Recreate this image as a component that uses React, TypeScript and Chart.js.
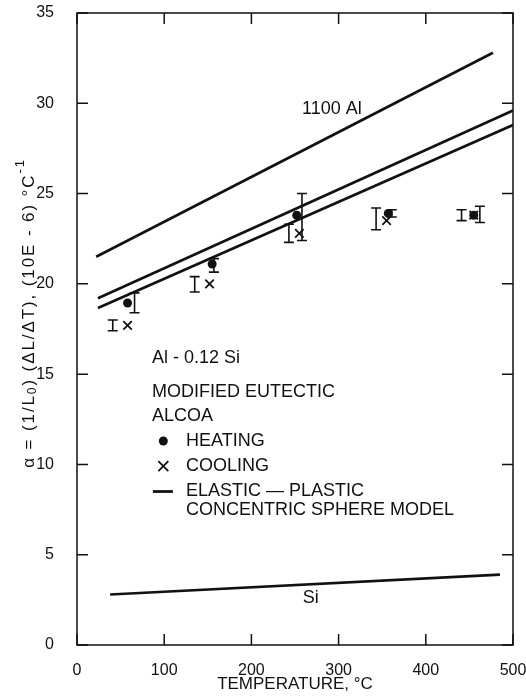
import React, { useEffect, useRef } from "react";
import { Chart, registerables } from "chart.js";

Chart.register(...registerables);

// ---------- data ----------
const xTickValues = [0, 100, 200, 300, 400, 500];
const yTickValues = [0, 5, 10, 15, 20, 25, 30, 35];

const al1100Temp = [22, 477];
const al1100Alpha = [21.5, 32.8];
const modelUpperTemp = [24, 500];
const modelUpperAlpha = [19.2, 29.6];
const modelLowerTemp = [24, 500];
const modelLowerAlpha = [18.66, 28.8];
const siTemp = [38, 485];
const siAlpha = [2.8, 3.9];

const heatingTemp = [58, 155, 252, 357, 455];
const heatingAlpha = [18.94, 21.1, 23.8, 23.9, 23.8];
const heatingErrTemp = [66, 157, 258, 361, 462];
const heatingErrLow = [18.4, 20.65, 22.4, 23.7, 23.4];
const heatingErrHigh = [19.5, 21.4, 25.0, 24.1, 24.3];

const coolingTemp = [58, 152, 255, 355, 455];
const coolingAlpha = [17.7, 20.0, 22.8, 23.5, 23.8];
const coolingErrTemp = [41, 135, 243, 343, 441];
const coolingErrLow = [17.4, 19.55, 22.3, 23.0, 23.5];
const coolingErrHigh = [18.0, 20.4, 23.3, 24.2, 24.1];

// annotation texts (data coordinates)
const noteTexts = [
  { text: "1100 Al", t: 258, a: 29.7 },
  { text: "Si", t: 259, a: 2.6 },
  { text: "Al - 0.12 Si", t: 86, a: 15.9 },
  { text: "MODIFIED EUTECTIC", t: 86, a: 14.0 },
  { text: "ALCOA", t: 86, a: 12.7 },
  { text: "HEATING", t: 125, a: 11.3 },
  { text: "COOLING", t: 125, a: 9.9 },
  { text: "ELASTIC — PLASTIC", t: 125, a: 8.5 },
  { text: "CONCENTRIC SPHERE MODEL", t: 125, a: 7.45 },
];
const legendSymbolTemp = 99;
const legendHeatAlpha = 11.3;
const legendCoolAlpha = 9.9;
const legendLineTemp = [87, 110];
const legendLineAlpha = 8.5;

const xTitle = "TEMPERATURE, °C";

const INK = "#111";
const FONT = '"Liberation Sans", Arial, Helvetica, sans-serif';

const toXY = (xs: number[], ys: number[]) => xs.map((x, i) => ({ x, y: ys[i] }));

const overlayPlugin = {
  id: "overlay",
  afterDatasetsDraw(chart: any) {
    const { ctx, chartArea: ca, scales } = chart;
    const xs = scales.x;
    const ys = scales.y;
    ctx.save();
    ctx.strokeStyle = INK;
    ctx.fillStyle = INK;

    // error bars
    const drawErr = (ts: number[], lo: number[], hi: number[]) => {
      ctx.lineWidth = 1.6;
      ts.forEach((t, i) => {
        const px = xs.getPixelForValue(t);
        const p1 = ys.getPixelForValue(lo[i]);
        const p2 = ys.getPixelForValue(hi[i]);
        ctx.beginPath();
        ctx.moveTo(px, p1);
        ctx.lineTo(px, p2);
        ctx.moveTo(px - 5, p1);
        ctx.lineTo(px + 5, p1);
        ctx.moveTo(px - 5, p2);
        ctx.lineTo(px + 5, p2);
        ctx.stroke();
      });
    };
    drawErr(heatingErrTemp, heatingErrLow, heatingErrHigh);
    drawErr(coolingErrTemp, coolingErrLow, coolingErrHigh);

    // frame
    ctx.lineWidth = 1.5;
    ctx.strokeRect(ca.left, ca.top, ca.right - ca.left, ca.bottom - ca.top);

    // inward ticks
    const TL = 11;
    ctx.beginPath();
    xTickValues.forEach((v) => {
      const px = xs.getPixelForValue(v);
      ctx.moveTo(px, ca.bottom);
      ctx.lineTo(px, ca.bottom - TL);
      ctx.moveTo(px, ca.top);
      ctx.lineTo(px, ca.top + TL);
    });
    yTickValues.forEach((v) => {
      const py = ys.getPixelForValue(v);
      ctx.moveTo(ca.left, py);
      ctx.lineTo(ca.left + TL, py);
      ctx.moveTo(ca.right, py);
      ctx.lineTo(ca.right - TL, py);
    });
    ctx.stroke();

    // annotations
    ctx.font = `18px ${FONT}`;
    ctx.textBaseline = "middle";
    ctx.textAlign = "left";
    noteTexts.forEach((n) => {
      ctx.fillText(n.text, xs.getPixelForValue(n.t), ys.getPixelForValue(n.a));
    });

    // legend symbols
    const sx = xs.getPixelForValue(legendSymbolTemp);
    ctx.beginPath();
    ctx.arc(sx, ys.getPixelForValue(legendHeatAlpha), 4.5, 0, Math.PI * 2);
    ctx.fill();
    const cy = ys.getPixelForValue(legendCoolAlpha);
    ctx.lineWidth = 1.8;
    ctx.beginPath();
    ctx.moveTo(sx - 5, cy - 5);
    ctx.lineTo(sx + 5, cy + 5);
    ctx.moveTo(sx - 5, cy + 5);
    ctx.lineTo(sx + 5, cy - 5);
    ctx.stroke();
    ctx.lineWidth = 2.8;
    ctx.beginPath();
    const ly = ys.getPixelForValue(legendLineAlpha);
    ctx.moveTo(xs.getPixelForValue(legendLineTemp[0]), ly);
    ctx.lineTo(xs.getPixelForValue(legendLineTemp[1]), ly);
    ctx.stroke();

    // x title
    ctx.font = `17px ${FONT}`;
    ctx.textAlign = "center";
    ctx.fillText(xTitle, (ca.left + ca.right) / 2, 684);

    // y title (rotated) with sub/superscripts, slightly letter-spaced
    const SP = 1.9;
    const segs = [
      { t: "α = (1/L", f: 17, dy: 0 },
      { t: "0", f: 12, dy: 4 },
      { t: ") (ΔL/ΔT), (10E - 6) °C", f: 17, dy: 0 },
      { t: "-1", f: 13, dy: -9 },
    ];
    let total = 0;
    segs.forEach((s) => {
      ctx.font = `${s.f}px ${FONT}`;
      for (const ch of s.t) total += ctx.measureText(ch).width + SP;
    });
    ctx.translate(29, (ca.top + ca.bottom) / 2 - 16);
    ctx.rotate(-Math.PI / 2);
    ctx.textAlign = "left";
    ctx.textBaseline = "middle";
    let x0 = -total / 2;
    segs.forEach((s) => {
      ctx.font = `${s.f}px ${FONT}`;
      for (const ch of s.t) {
        ctx.fillText(ch, x0, s.dy);
        x0 += ctx.measureText(ch).width + SP;
      }
    });
    ctx.restore();
  },
};

export default function App() {
  const ref = useRef<HTMLCanvasElement | null>(null);

  useEffect(() => {
    if (!ref.current) return;
    const lineDs = (xs: number[], ys: number[]) => ({
      type: "scatter" as const,
      data: toXY(xs, ys),
      showLine: true,
      borderColor: INK,
      borderWidth: 2.6,
      pointRadius: 0,
      fill: false,
    });
    const chart = new Chart(ref.current, {
      type: "scatter",
      data: {
        datasets: [
          lineDs(al1100Temp, al1100Alpha),
          lineDs(modelUpperTemp, modelUpperAlpha),
          lineDs(modelLowerTemp, modelLowerAlpha),
          lineDs(siTemp, siAlpha),
          {
            data: toXY(heatingTemp, heatingAlpha),
            pointStyle: "circle",
            pointRadius: 4.5,
            backgroundColor: INK,
            borderColor: INK,
            borderWidth: 0,
          },
          {
            data: toXY(coolingTemp, coolingAlpha),
            pointStyle: "crossRot",
            pointRadius: 6,
            backgroundColor: INK,
            borderColor: INK,
            borderWidth: 1.8,
          },
        ],
      },
      options: {
        animation: false,
        responsive: false,
        maintainAspectRatio: false,
        events: [],
        layout: { padding: { top: 13, right: 13, left: 0, bottom: 0 } },
        plugins: { legend: { display: false }, tooltip: { enabled: false } },
        scales: {
          x: {
            type: "linear",
            min: 0,
            max: 500,
            afterBuildTicks: (s: any) => {
              s.ticks = xTickValues.map((v) => ({ value: v }));
            },
            afterFit: (s: any) => {
              s.height = 55;
              s.paddingLeft = 0;
              s.paddingRight = 0;
            },
            grid: { display: false },
            border: { display: false },
            ticks: { color: INK, font: { size: 16, family: FONT }, padding: 8, maxRotation: 0 },
          },
          y: {
            type: "linear",
            min: 0,
            max: 35,
            afterBuildTicks: (s: any) => {
              s.ticks = yTickValues.map((v) => ({ value: v }));
            },
            afterFit: (s: any) => {
              s.width = 77;
              s.paddingTop = 0;
              s.paddingBottom = 0;
            },
            grid: { display: false },
            border: { display: false },
            ticks: { color: INK, font: { size: 16, family: FONT }, padding: 15 },
          },
        },
      },
      plugins: [overlayPlugin],
    } as any);
    return () => chart.destroy();
  }, []);

  return (
    <div style={{ position: "fixed", left: 0, top: 0, width: 526, height: 700, background: "#fff" }}>
      <canvas ref={ref} width={526} height={700} style={{ width: 526, height: 700 }} />
    </div>
  );
}
